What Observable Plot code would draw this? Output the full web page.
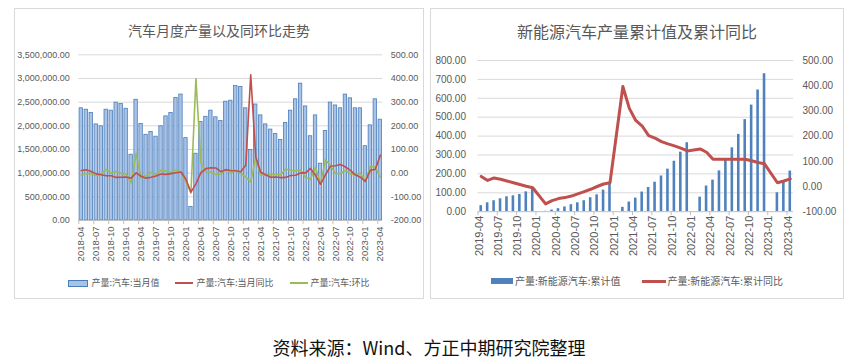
<!DOCTYPE html>
<html><head><meta charset="utf-8">
<script src="https://cdn.jsdelivr.net/npm/d3@7"></script>
<script src="https://cdn.jsdelivr.net/npm/@observablehq/plot@0.6"></script>
<style>
body{margin:0;background:#fff;font-family:"Liberation Sans","Noto Sans CJK SC",sans-serif;}
#page{position:relative;width:849px;height:364px;overflow:hidden;background:#fff;}
.panel{position:absolute;border:1px solid #d9d9d9;background:#fff;}
.panel svg{position:absolute;left:0;top:0;overflow:visible;}
.title{position:absolute;left:0;right:0;text-align:center;color:#595959;font-family:"Noto Sans CJK SC",sans-serif;white-space:nowrap;}
.legend{position:absolute;left:0;right:0;display:flex;justify-content:center;align-items:center;color:#595959;font-family:"Noto Sans CJK SC",sans-serif;white-space:nowrap;}
.legend .item{display:flex;align-items:center;}
.caption{position:absolute;left:0;width:858px;text-align:center;font-family:"Noto Sans CJK SC",sans-serif;font-size:18px;line-height:18px;color:#111;}
</style></head>
<body>
<div id="page">
  <div class="panel" id="p1" style="left:14px;top:8px;width:408px;height:289px;">
    <div class="title" style="top:13px;font-size:14px;line-height:16px;">汽车月度产量以及同环比走势</div>
    <div class="legend" id="lg1" style="top:268px;font-size:9px;line-height:12px;"></div>
  </div>
  <div class="panel" id="p2" style="left:430px;top:8px;width:412px;height:289px;">
    <div class="title" style="top:13px;font-size:16px;line-height:18px;">新能源汽车产量累计值及累计同比</div>
    <div class="legend" id="lg2" style="top:266px;font-size:10px;line-height:12px;"></div>
  </div>
  <div class="caption" style="top:338px;">资料来源：Wind、方正中期研究院整理</div>
</div>
<script>
// ---------- data ----------
const months = ["2018-04","2018-05","2018-06","2018-07","2018-08","2018-09","2018-10","2018-11","2018-12",
"2019-01","2019-02","2019-03","2019-04","2019-05","2019-06","2019-07","2019-08","2019-09","2019-10","2019-11","2019-12",
"2020-01","2020-02","2020-03","2020-04","2020-05","2020-06","2020-07","2020-08","2020-09","2020-10","2020-11","2020-12",
"2021-01","2021-02","2021-03","2021-04","2021-05","2021-06","2021-07","2021-08","2021-09","2021-10","2021-11","2021-12",
"2022-01","2022-02","2022-03","2022-04","2022-05","2022-06","2022-07","2022-08","2022-09","2022-10","2022-11","2022-12",
"2023-01","2023-02","2023-03","2023-04"];
const leftTickLabels = ["2018-04","2018-07","2018-10","2019-01","2019-04","2019-07","2019-10","2020-01","2020-04","2020-07","2020-10","2021-01","2021-04","2021-07","2021-10","2022-01","2022-04","2022-07","2022-10","2023-01","2023-04"];
// 产量:汽车:当月值 (辆)
const autoOutput = [
2370000,2340000,2270000,2030000,1990000,2340000,2320000,2490000,2460000,
2360000,1390000,2550000,2040000,1810000,1870000,1770000,1990000,2200000,2270000,2590000,2660000,
1740000,285000,1410000,2080000,2190000,2320000,2180000,2100000,2510000,2530000,2840000,2820000,
2370000,1490000,2450000,2220000,2030000,1920000,1830000,1700000,2060000,2320000,2560000,2890000,
2410000,1780000,2220000,1200000,1890000,2490000,2430000,2370000,2660000,2580000,2370000,2370000,
1570000,2010000,2560000,2130000];
// 产量:汽车:当月同比 (%)
const autoYoY = [
11,14,7,-3,-7,-11,-11,-18,-17,
-16,-21,1,-13,-21,-17,-12,-4,-5,-2,2,5,
-26,-80,-45,2,19,23,22,6,14,11,10,6,
33,416,69,4,-7,-17,-16,-19,-18,-10,-9,1,
1,20,-9,-47,-6,29,31,37,26,12,-7,-17,
-35,12,16,76];
// 产量:汽车:环比 (%)
const autoMoM = [
-8,-1,-3,-11,-2,16,-1,7,-1,
-4,-41,83,-20,-11,3,-5,12,10,3,14,3,
-35,-84,399,45,5,6,-6,-4,17,1,12,-1,
-16,-37,66,-9,-9,-5,-5,-7,17,12,10,13,
-17,-26,25,-46,57,32,-2,-2,12,-3,-8,0,
-34,28,27,-17];

const nevMonths = months.slice(12);
const rightTickLabels = leftTickLabels.slice(4);
// 产量:新能源汽车:累计值 (万辆)
const nevCum = [
32,47,58,68,79,84,91,105,123,
null,2,9,16,25,37,47,58,74,89,114,148,
null,23,51,72,104,128,156,189,225,267,315,365,
null,77,136,167,216,275,338,409,487,564,644,730,
null,100,157,215];
// 产量:新能源汽车:累计同比 (%)
const nevCumYoY = [
40,24,34,29,22,15,8,1,-5,
null,-69,-56,-48,-44,-38,-29,-20,-11,0,10,15,
null,397,310,262,240,202,192,178,169,161,152,141,
null,149,136,108,108,108,108,108,108,102,95,90,
null,15,22,30];

// ---------- helpers ----------
const loc = d3.formatLocale({decimal:".", thousands:",", grouping:[3], currency:["",""], minus:"-"});
const fmtBig = loc.format(",.2f");
const fmt2 = loc.format(".2f");
const FONT = "Liberation Sans, Noto Sans CJK SC, sans-serif";
const GRID = "#d9d9d9", AXIS = "#bfbfbf", TXT = "#595959";

// ---------- left chart ----------
{
  const W = 408, H = 289, mL = 63.3, mR = 40.7, mT = 45.3, mB = 78;
  const step = (W - mL - mR) / months.length;
  const yR = d3.scaleLinear([-200, 500], [0, 3500000]);
  const data = months.map((m, i) => ({m, v: autoOutput[i], yoy: autoYoY[i], mom: autoMoM[i]}));
  const leftTicks = d3.range(0, 3500001, 500000);
  const chart = Plot.plot({
    width: W, height: H, marginLeft: mL, marginRight: mR, marginTop: mT, marginBottom: mB,
    style: {fontFamily: FONT, background: "transparent", overflow: "visible"},
    x: {type: "band", domain: months, paddingInner: 0.32, paddingOuter: 0.16, round: false, axis: null, label: null},
    y: {domain: [0, 3500000], axis: null, label: null},
    marks: [
      Plot.ruleY(leftTicks.slice(1), {stroke: GRID, strokeWidth: 1}),
      Plot.barY(data, {x: "m", y: "v", fill: "#a9c3e6", stroke: "#4a7ebb", strokeWidth: 0.8}),
      Plot.lineY(data, {x: "m", y: d => yR(d.mom), stroke: "#9bbb59", strokeWidth: 1.6}),
      Plot.lineY(data, {x: "m", y: d => yR(d.yoy), stroke: "#c0504d", strokeWidth: 1.6}),
      Plot.ruleY([0], {stroke: AXIS, strokeWidth: 1}),
      Plot.axisY({anchor: "left", label: null, ticks: leftTicks, tickFormat: fmtBig, tickSize: 0, tickPadding: 9, fontSize: 9, color: TXT}),
      Plot.axisY({anchor: "right", label: null, ticks: leftTicks, tickFormat: d => fmt2(yR.invert(d)), tickSize: 0, tickPadding: 8, fontSize: 9, color: TXT}),
      Plot.axisX({label: null, ticks: leftTickLabels, tickRotate: -90, tickSize: 0, tickPadding: 6, fontSize: 9.5, color: TXT}),
      Plot.axisX({label: null, ticks: leftTickLabels, tickFormat: () => "", tickSize: 4, dx: -step / 2, stroke: AXIS})
    ]
  });
  document.getElementById("p1").prepend(chart);
  document.getElementById("lg1").innerHTML =
    `<span class="item"><span style="display:inline-block;width:18px;height:5px;background:#a9c3e6;border:1px solid #4a7ebb;margin-right:3px"></span>产量:汽车:当月值</span>
     <span class="item" style="margin-left:16px"><span style="display:inline-block;width:18px;height:2px;background:#c0504d;margin-right:3px"></span>产量:汽车:当月同比</span>
     <span class="item" style="margin-left:16px"><span style="display:inline-block;width:18px;height:2px;background:#9bbb59;margin-right:3px"></span>产量:汽车:环比</span>`;
}

// ---------- right chart ----------
{
  const W = 412, H = 289, mL = 46.5, mR = 50, mT = 51, mB = 86.8;
  const step = (W - mL - mR) / nevMonths.length;
  const yR = d3.scaleLinear([-100, 500], [0, 800]);
  const data = nevMonths.map((m, i) => ({m, v: nevCum[i], yoy: nevCumYoY[i]}));
  const leftTicks = d3.range(0, 801, 100);
  const rightTicks = d3.range(-100, 501, 100);
  const chart = Plot.plot({
    width: W, height: H, marginLeft: mL, marginRight: mR, marginTop: mT, marginBottom: mB,
    style: {fontFamily: FONT, background: "transparent", overflow: "visible"},
    x: {type: "band", domain: nevMonths, paddingInner: 0.6, paddingOuter: 0.3, round: false, axis: null, label: null},
    y: {domain: [0, 800], axis: null, label: null},
    marks: [
      Plot.ruleY(leftTicks.slice(1), {stroke: GRID, strokeWidth: 1}),
      Plot.barY(data.filter(d => d.v != null), {x: "m", y: "v", fill: "#4f81bd"}),
      Plot.lineY(data.filter(d => d.yoy != null), {x: "m", y: d => yR(d.yoy), stroke: "#c0504d", strokeWidth: 3, strokeLinejoin: "round"}),
      Plot.ruleY([0], {stroke: AXIS, strokeWidth: 1}),
      Plot.axisY({anchor: "left", label: null, ticks: leftTicks, tickFormat: fmt2, tickSize: 0, tickPadding: 12, fontSize: 10, color: TXT}),
      Plot.axisY({anchor: "right", label: null, ticks: rightTicks.map(yR), tickFormat: d => fmt2(yR.invert(d)), tickSize: 0, tickPadding: 9, fontSize: 10, color: TXT}),
      Plot.axisX({label: null, ticks: rightTickLabels, tickRotate: -90, tickSize: 0, tickPadding: 4, dx: -step / 2 + 1, fontSize: 11, color: TXT}),
      Plot.axisX({label: null, ticks: rightTickLabels, tickFormat: () => "", tickSize: 4, dx: -step / 2, stroke: AXIS})
    ]
  });
  document.getElementById("p2").prepend(chart);
  document.getElementById("lg2").innerHTML =
    `<span class="item"><span style="display:inline-block;width:22px;height:6px;background:#4f81bd;margin-right:2px"></span>产量:新能源汽车:累计值</span>
     <span class="item" style="margin-left:21px"><span style="display:inline-block;width:24px;height:3px;background:#c0504d;margin-right:2px"></span>产量:新能源汽车:累计同比</span>`;
}
</script>
</body></html>
